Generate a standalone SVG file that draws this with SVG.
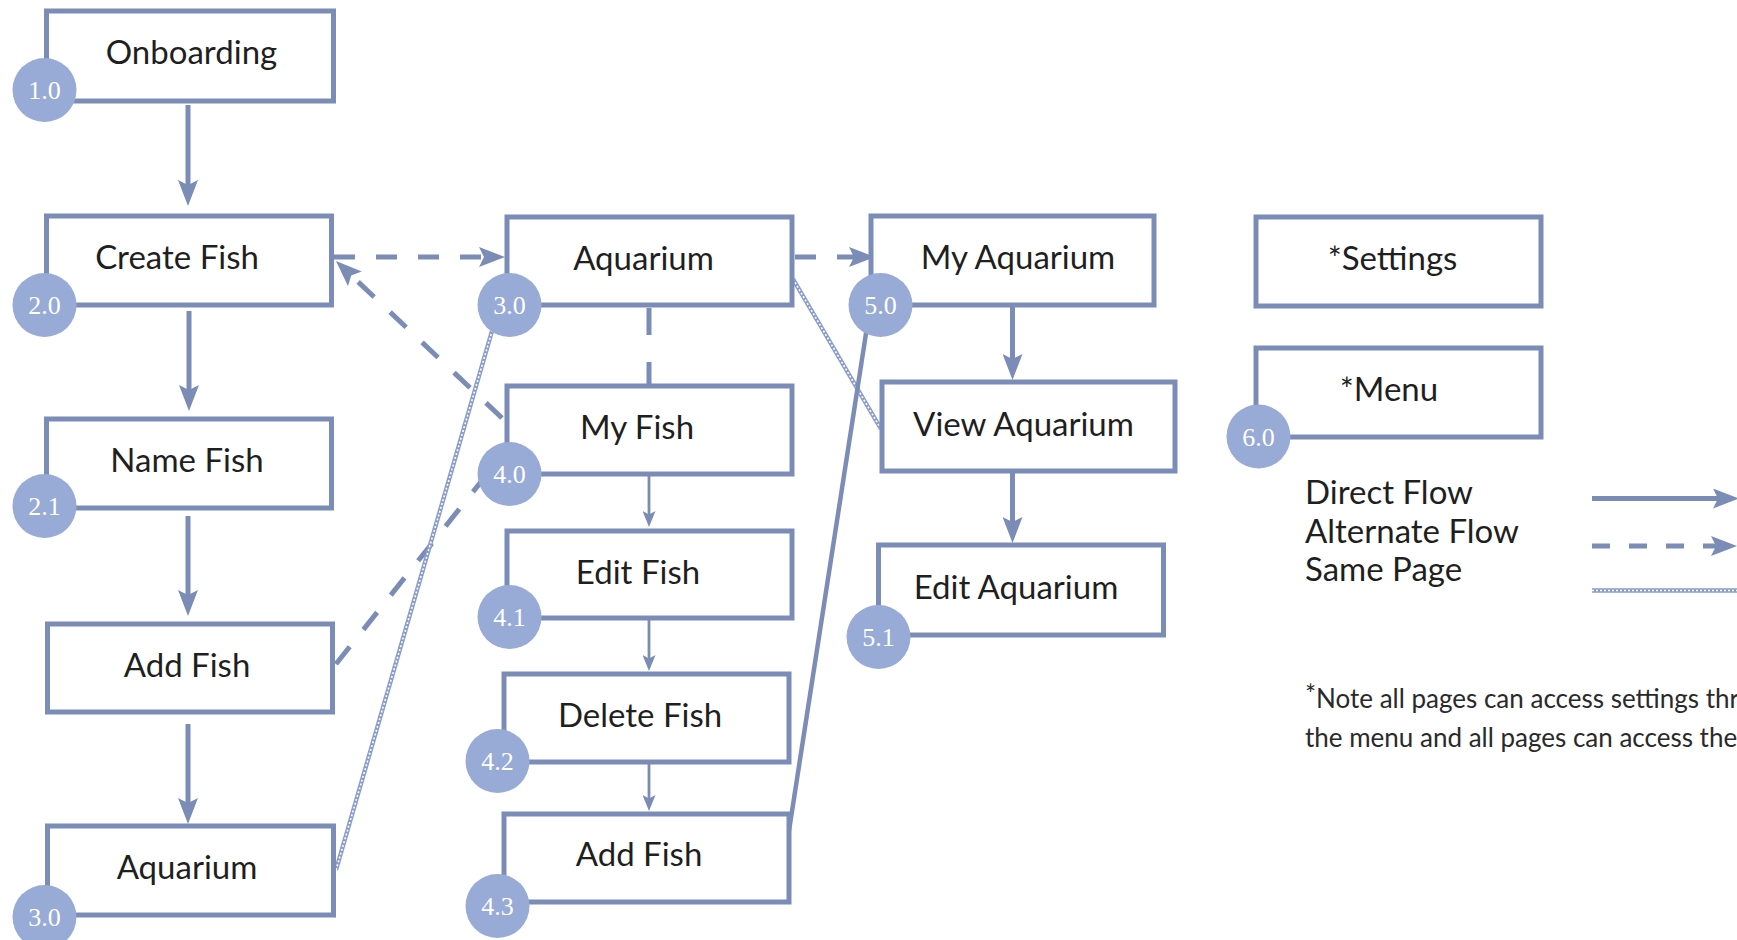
<svg xmlns="http://www.w3.org/2000/svg" width="1737" height="940" viewBox="0 0 1737 940">
<style>
.box{fill:#fff;stroke:#7b8cb6;stroke-width:5}
.lbl{font-family:Lato,'Liberation Sans',sans-serif;font-size:33px;fill:#1f1f1f;text-anchor:middle}
.badge{fill:#98aad6}
.bt{font-family:'Liberation Serif',serif;font-size:26px;fill:#fff;text-anchor:middle}
.solid{stroke:#7b8cb6;stroke-width:5;fill:none}
.thin{stroke:#7b8cb6;stroke-width:2.8;fill:none}
.dash{stroke:#7b8cb6;stroke-width:5;fill:none;stroke-dasharray:21 21}
.wave{stroke:#8a9cc8;stroke-width:4.4;fill:none}
.waveIn{stroke:#fff;stroke-width:1.6;fill:none;stroke-dasharray:2 2}
.leg{font-family:Lato,'Liberation Sans',sans-serif;font-size:33px;fill:#1f1f1f}
.note{font-family:Lato,'Liberation Sans',sans-serif;font-size:26px;fill:#2a2a2a}
</style>
<defs>
<marker id="ah" markerUnits="userSpaceOnUse" markerWidth="26" markerHeight="20" viewBox="0 0 26 20" refX="6" refY="10" orient="auto"><path d="M0,0 L26,10 L0,20 L5,10 Z" fill="#7b8cb6"/></marker>
<marker id="ahs" markerUnits="userSpaceOnUse" markerWidth="16" markerHeight="13" viewBox="0 0 16 13" refX="4" refY="6.5" orient="auto"><path d="M0,0 L16,6.5 L0,13 L3.5,6.5 Z" fill="#7b8cb6"/></marker>
</defs>
<g id="connectors">
<line class="solid" x1="188" y1="105" x2="188" y2="186" marker-end="url(#ah)"/>
<line class="solid" x1="189" y1="311" x2="189" y2="391" marker-end="url(#ah)"/>
<line class="solid" x1="188" y1="516" x2="188" y2="596" marker-end="url(#ah)"/>
<line class="solid" x1="188" y1="724" x2="188" y2="804" marker-end="url(#ah)"/>
<line class="dash" x1="334" y1="257" x2="485" y2="257" marker-end="url(#ah)"/>
<line class="dash" x1="795" y1="257" x2="855" y2="257" marker-end="url(#ah)"/>
<line class="dash" x1="649" y1="308" x2="649" y2="386" style="stroke-dasharray:27 27"/>
<line class="dash" x1="502" y1="418" x2="350.5" y2="274.7" style="stroke-dasharray:22 22" marker-end="url(#ah)"/>
<line class="dash" x1="336" y1="664" x2="484" y2="478" style="stroke-dasharray:22 22"/>
<line class="wave" x1="336" y1="870" x2="492" y2="331"/><line class="waveIn" x1="336" y1="870" x2="492" y2="331"/>
<line class="wave" x1="793" y1="279" x2="881" y2="429"/><line class="waveIn" x1="793" y1="279" x2="881" y2="429"/>
<line class="solid" x1="786" y1="850" x2="867" y2="327" style="stroke-width:4.5"/>
<line class="thin" x1="649" y1="476" x2="649" y2="515" marker-end="url(#ahs)"/>
<line class="thin" x1="649" y1="620" x2="649" y2="659" marker-end="url(#ahs)"/>
<line class="thin" x1="649" y1="764" x2="649" y2="799" marker-end="url(#ahs)"/>
<line class="solid" x1="1012.5" y1="307" x2="1012.5" y2="360" marker-end="url(#ah)"/>
<line class="solid" x1="1012.5" y1="473" x2="1012.5" y2="523" marker-end="url(#ah)"/>
</g>
<g id="n-onboarding"><rect class="box" x="46.5" y="11" width="287" height="90"/><text class="lbl" x="191.5" y="64">Onboarding</text><circle class="badge" cx="44.5" cy="90" r="32"/><text class="bt" x="44.5" y="99">1.0</text></g>
<g id="n-createfish"><rect class="box" x="46.5" y="216" width="285" height="89"/><text class="lbl" x="177" y="269">Create Fish</text><circle class="badge" cx="44.5" cy="305" r="32"/><text class="bt" x="44.5" y="314">2.0</text></g>
<g id="n-namefish"><rect class="box" x="46.5" y="419" width="285" height="89"/><text class="lbl" x="187" y="472">Name Fish</text><circle class="badge" cx="44.5" cy="506" r="32"/><text class="bt" x="44.5" y="515">2.1</text></g>
<g id="n-addfish-1"><rect class="box" x="47.5" y="624" width="285" height="88"/><text class="lbl" x="187" y="677">Add Fish</text></g>
<g id="n-aquarium-1"><rect class="box" x="47.5" y="826" width="286" height="89"/><text class="lbl" x="187" y="879">Aquarium</text><circle class="badge" cx="44.5" cy="917" r="32"/><text class="bt" x="44.5" y="926">3.0</text></g>
<g id="n-aquarium-2"><rect class="box" x="507" y="217" width="285" height="88"/><text class="lbl" x="643.5" y="270">Aquarium</text><circle class="badge" cx="509.5" cy="305" r="32"/><text class="bt" x="509.5" y="314">3.0</text></g>
<g id="n-myfish"><rect class="box" x="507" y="386" width="285" height="88"/><text class="lbl" x="637" y="438.5">My Fish</text><circle class="badge" cx="509.5" cy="474" r="32"/><text class="bt" x="509.5" y="483">4.0</text></g>
<g id="n-editfish"><rect class="box" x="507" y="531" width="285" height="87"/><text class="lbl" x="638" y="584">Edit Fish</text><circle class="badge" cx="509.5" cy="617" r="32"/><text class="bt" x="509.5" y="626">4.1</text></g>
<g id="n-deletefish"><rect class="box" x="504" y="674" width="285" height="88"/><text class="lbl" x="640" y="726.5">Delete Fish</text><circle class="badge" cx="497.5" cy="761" r="32"/><text class="bt" x="497.5" y="770">4.2</text></g>
<g id="n-addfish-2"><rect class="box" x="504" y="814" width="285" height="88"/><text class="lbl" x="639" y="866">Add Fish</text><circle class="badge" cx="497.5" cy="906" r="32"/><text class="bt" x="497.5" y="915">4.3</text></g>
<g id="n-myaquarium"><rect class="box" x="871" y="216" width="283" height="89"/><text class="lbl" x="1018" y="269">My Aquarium</text><circle class="badge" cx="880.5" cy="305" r="32"/><text class="bt" x="880.5" y="314">5.0</text></g>
<g id="n-viewaquarium"><rect class="box" x="882" y="382" width="293" height="89"/><text class="lbl" x="1023.5" y="436">View Aquarium</text></g>
<g id="n-editaquarium"><rect class="box" x="878.5" y="545" width="285" height="90"/><text class="lbl" x="1016" y="599">Edit Aquarium</text><circle class="badge" cx="878.5" cy="637" r="32"/><text class="bt" x="878.5" y="646">5.1</text></g>
<g id="n-settings"><rect class="box" x="1256" y="217" width="285" height="89"/><text class="lbl" x="1392.5" y="270">*Settings</text></g>
<g id="n-menu"><rect class="box" x="1256" y="348" width="285" height="89"/><text class="lbl" x="1389" y="401">*Menu</text><circle class="badge" cx="1258.5" cy="436.5" r="32"/><text class="bt" x="1258.5" y="445.5">6.0</text></g>
<g id="legend">
<text class="leg" x="1305" y="504">Direct Flow</text>
<text class="leg" x="1305" y="543">Alternate Flow</text>
<text class="leg" x="1305" y="581">Same Page</text>
<line class="solid" x1="1592" y1="498.5" x2="1719" y2="498.5" marker-end="url(#ah)"/>
<line class="dash" x1="1592" y1="546" x2="1717" y2="546" style="stroke-dasharray:18 19" marker-end="url(#ah)"/>
<line class="wave" x1="1592" y1="590.5" x2="1737" y2="590.5"/><line class="waveIn" x1="1592" y1="590.5" x2="1737" y2="590.5"/>
<text class="note" x="1305" y="708"><tspan dy="-4">*</tspan><tspan dy="4">Note all pages can access settings through</tspan></text>
<text class="note" x="1305" y="747">the menu and all pages can access the menu</text>
</g>
</svg>
